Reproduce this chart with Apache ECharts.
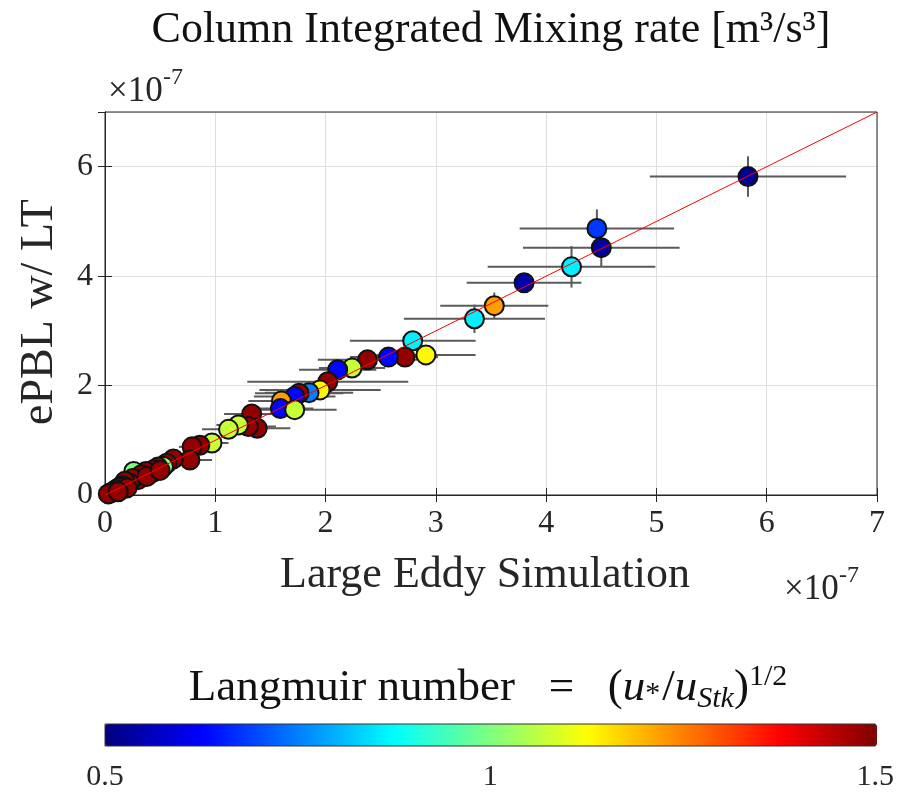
<!DOCTYPE html>
<html><head><meta charset="utf-8">
<script src="https://cdn.jsdelivr.net/npm/echarts@6/dist/echarts.min.js"></script>
<style>html,body{margin:0;padding:0;background:#fff}#c{width:897px;height:792px}</style>
</head><body><div id="c"></div>
<script>
// Large Eddy Simulation (x, units 1e-7)
const lesX = [5.83,4.46,4.50,4.23,3.80,3.53,3.35,2.79,2.91,2.72,2.57,2.38,2.24,2.11,2.02,1.95,1.85,1.76,1.72,1.60,1.59,1.72,1.33,1.38,1.30,1.21,1.12,0.97,0.86,0.79,0.77,
  0.62,0.56,0.53,0.48,0.43,0.44,0.37,0.26,0.33,0.30,0.25,0.22,0.18,0.16,0.13,0.10,0.08,0.05,0.03,0.20,0.12,0.38,0.50];
// ePBL w/ LT (y, units 1e-7)
const pblY = [5.82,4.87,4.52,4.17,3.88,3.46,3.22,2.82,2.56,2.52,2.52,2.47,2.32,2.29,2.07,1.92,1.87,1.86,1.80,1.72,1.58,1.56,1.48,1.22,1.25,1.28,1.20,0.95,0.91,0.88,0.64,
  0.66,0.58,0.52,0.51,0.41,0.46,0.43,0.43,0.37,0.28,0.30,0.22,0.25,0.17,0.14,0.10,0.06,0.04,0.02,0.13,0.06,0.34,0.45];
// Langmuir number
const langmuir = [0.52,0.68,0.53,0.86,0.54,1.22,0.86,0.86,1.13,1.48,0.63,1.48,1.07,0.63,1.48,1.13,0.75,1.48,0.63,1.22,0.63,1.07,1.48,1.48,1.48,1.07,1.07,1.07,1.48,1.48,1.48,
  1.48,1.48,1.02,1.48,1.00,1.48,1.48,1.00,1.48,1.48,1.48,1.48,1.48,1.48,1.48,1.48,1.48,1.48,1.48,1.48,1.48,1.48,1.48];
// half-widths of error bars
const xErr = [0.89,0.70,0.71,0.76,0.52,0.49,0.64,0.57,0.45,0.30,0.35,0.45,0.30,0.35,0.73,0.55,0.40,0.40,0.37,0.30,0.30,0.38,0.25,0.30,0.25,0.20,0.24,0.15,0.15,0.12,0.20,
  0.08,0.08,0.06,0.06,0.05,0.05,0.05,0.04,0.04,0.04,0.04,0.03,0.03,0.03,0.02,0.02,0.02,0.01,0.01,0.03,0.02,0.05,0.06];
const yErr = [0.37,0.35,0.34,0.38,0.10,0.24,0.26,0.05,0.05,0.04,0.04,0.04,0.04,0.04,0.04,0.04,0.04,0.04,0.04,0.04,0.04,0.04,0.04,0.04,0.04,0.04,0.04,0.03,0.03,0.03,0.03,
  0.02,0.02,0.02,0.02,0.02,0.02,0.02,0.02,0.02,0.02,0.02,0.02,0.02,0.02,0.01,0.01,0.01,0.01,0.01,0.01,0.01,0.02,0.02];
const xRange = [0, 7];
const yRange = [0, 7];
const cbRange = [0.5, 1.5];
const jetColors = ['#00007f','#0000ff','#007fff','#00ffff','#7fff7f','#ffff00','#ff7f00','#ff0000','#7f0000'];

const pts = lesX.map((x,i)=>[x,pblY[i],langmuir[i]]);
const errs = lesX.map((x,i)=>[x,pblY[i],xErr[i],yErr[i]]);
const FONT = 'Liberation Serif';

const chart = echarts.init(document.getElementById('c'));
const axLine = {show:true, lineStyle:{color:'#262626', width:1}};
chart.setOption({
  animation:false,
  backgroundColor:'#fff',
  grid:[
    {left:105, right:20, top:112, bottom:297, show:true, borderColor:'#262626', borderWidth:1, backgroundColor:'transparent', z:1},
    {left:105, right:20, top:724, height:22, show:true, borderColor:'#333', borderWidth:1, backgroundColor:'transparent', z:10}
  ],
  xAxis:[
    {gridIndex:0, type:'value', min:xRange[0], max:xRange[1], interval:1, position:'bottom',
      axisLine:axLine, axisTick:{inside:true, length:7, lineStyle:{color:'#262626'}},
      axisLabel:{fontFamily:FONT, fontSize:32, color:'#262626', margin:13},
      splitLine:{show:true, lineStyle:{color:'#dedede', width:1}}},
    {gridIndex:0, type:'value', min:xRange[0], max:xRange[1], interval:1, position:'top',
      axisLine:axLine, axisTick:{inside:true, length:7, lineStyle:{color:'#262626'}},
      axisLabel:{show:false}, splitLine:{show:false}},
    {gridIndex:1, type:'value', min:cbRange[0], max:cbRange[1], interval:0.5, position:'bottom',
      axisLine:{show:false}, axisTick:{inside:true, length:6, lineStyle:{color:'#333'}},
      axisLabel:{fontFamily:FONT, fontSize:30, color:'#262626', margin:16}, splitLine:{show:false}}
  ],
  yAxis:[
    {gridIndex:0, type:'value', min:yRange[0], max:yRange[1], interval:2, position:'left',
      axisLine:axLine, axisTick:{inside:true, length:7, lineStyle:{color:'#262626'}},
      axisLabel:{fontFamily:FONT, fontSize:32, color:'#262626', margin:12, showMaxLabel:false},
      splitLine:{show:true, lineStyle:{color:'#dedede', width:1}}},
    {gridIndex:0, type:'value', min:yRange[0], max:yRange[1], interval:2, position:'right',
      axisLine:axLine, axisTick:{inside:true, length:7, lineStyle:{color:'#262626'}},
      axisLabel:{show:false}, splitLine:{show:false}},
    {gridIndex:1, type:'value', min:0, max:1, show:false}
  ],
  visualMap:{
    type:'continuous', min:cbRange[0], max:cbRange[1], dimension:2, seriesIndex:1,
    orient:'horizontal', left:105, top:724, itemWidth:22, itemHeight:772, padding:0,
    calculable:false, hoverLink:false, realtime:false, text:null, showLabel:false,
    inRange:{color:jetColors}, z:4
  },
  series:[
    {type:'custom', xAxisIndex:0, yAxisIndex:0, data:errs, z:2, silent:true,
      renderItem:(params, api)=>{
        const x=api.value(0), y=api.value(1), xe=api.value(2), ye=api.value(3);
        const l=api.coord([x-xe,y]), r=api.coord([x+xe,y]), b=api.coord([x,y-ye]), t=api.coord([x,y+ye]);
        const st={stroke:'#5a5a5a', lineWidth:2};
        return {type:'group', children:[
          {type:'line', shape:{x1:l[0],y1:l[1],x2:r[0],y2:r[1]}, style:st},
          {type:'line', shape:{x1:b[0],y1:b[1],x2:t[0],y2:t[1]}, style:st}
        ]};
      }},
    {type:'scatter', xAxisIndex:0, yAxisIndex:0, data:pts, symbolSize:19, z:3,
      itemStyle:{borderColor:'#111', borderWidth:2, opacity:1}},
    {type:'line', xAxisIndex:0, yAxisIndex:0, data:[[xRange[0],yRange[0]],[xRange[1],yRange[1]]], symbol:'none', z:5,
      lineStyle:{color:'#ff0000', width:1}}
  ],
  graphic:[
    {type:'text', x:491, y:30, style:{text:'Column Integrated Mixing rate [m³/s³]', font:'44px "Liberation Serif"', fill:'#111', textAlign:'center', textVerticalAlign:'middle'}},
    {type:'text', x:108, y:92, style:{text:'×10', font:'35px "Liberation Serif"', fill:'#262626', textAlign:'left', textVerticalAlign:'middle'}},
    {type:'text', x:163, y:78, style:{text:'-7', font:'24px "Liberation Serif"', fill:'#262626', textAlign:'left', textVerticalAlign:'middle'}},
    {type:'text', x:784, y:590, style:{text:'×10', font:'35px "Liberation Serif"', fill:'#262626', textAlign:'left', textVerticalAlign:'middle'}},
    {type:'text', x:839, y:576, style:{text:'-7', font:'24px "Liberation Serif"', fill:'#262626', textAlign:'left', textVerticalAlign:'middle'}},
    {type:'text', x:485, y:575, style:{text:'Large Eddy Simulation', font:'44px "Liberation Serif"', fill:'#262626', textAlign:'center', textVerticalAlign:'middle'}},
    {type:'text', x:40, y:312, rotation:Math.PI/2, style:{text:'ePBL w/ LT', font:'46px "Liberation Serif"', fill:'#262626', textAlign:'center', textVerticalAlign:'middle'}},
    {type:'text', x:488, y:688, style:{
      text:'{n|Langmuir number   =   (}{i|u}{sb|*}{n|/}{i|u}{si|Stk}{n|)}{sp|1/2}',
      textAlign:'center', textVerticalAlign:'middle', fill:'#111',
      rich:{
        n:{fontFamily:FONT, fontSize:45, lineHeight:52, verticalAlign:'middle'},
        i:{fontFamily:FONT, fontStyle:'italic', fontSize:45, lineHeight:52, verticalAlign:'middle'},
        sb:{fontFamily:FONT, fontSize:30, lineHeight:30, verticalAlign:'middle', padding:[12,2,0,0]},
        si:{fontFamily:FONT, fontStyle:'italic', fontSize:30, lineHeight:30, verticalAlign:'bottom'},
        sp:{fontFamily:FONT, fontSize:30, lineHeight:30, verticalAlign:'top'}
      }}}
  ]
});
</script></body></html>
